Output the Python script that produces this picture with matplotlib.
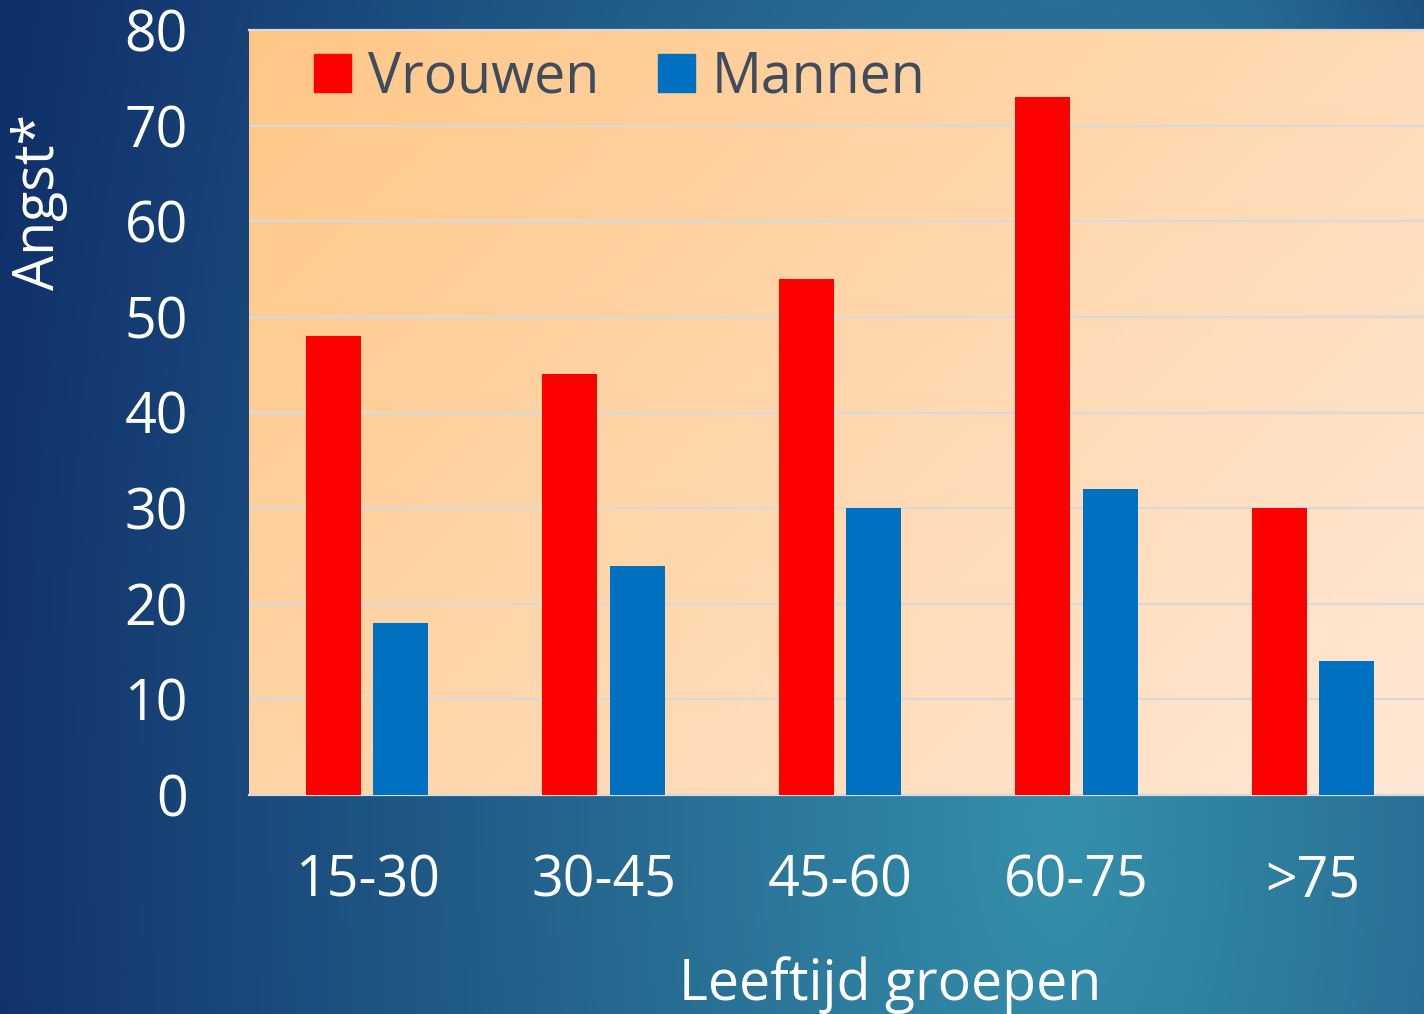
import numpy as np
import matplotlib
matplotlib.use('Agg')
import matplotlib.pyplot as plt
from matplotlib.patches import Patch
from matplotlib.colors import to_rgb

# data
groups = ['15-30', '30-45', '45-60', '60-75', '>75']
vrouwen = [48, 44, 54, 73, 30]
mannen = [18, 24, 30, 32, 14]
yticks = [0, 10, 20, 30, 40, 50, 60, 70, 80]

plt.rcParams['font.family'] = ['Open Sans', 'DejaVu Sans']

W, H = 1424, 1014
fig = plt.figure(figsize=(W / 100, H / 100), dpi=100)

# blue slide background
bg_ax = fig.add_axes([0, 0, 1, 1], zorder=-1)
yy, xx = np.mgrid[0:H, 0:W]
d = np.sqrt(((xx - 1060) / 1050.0) ** 2 + ((yy - 820) / 2200.0) ** 2)
d = d + np.clip((xx - 1250) / 900.0, 0, None) * np.clip((500 - yy) / 500.0, 0, None)
t = np.clip(d / 1.05, 0, 1)[..., None]
c_in = np.array(to_rgb('#3590ab'))
c_out = np.array(to_rgb('#10306a'))
bg = c_in + (c_out - c_in) * t
bg_ax.imshow(bg, aspect='auto', extent=[0, 1, 0, 1], origin='upper')
bg_ax.axis('off')

ax = fig.add_axes([249 / W, 1 - 795 / H, 1 - 249 / W, (795 - 30) / H])
ax.patch.set_alpha(0)

xlo, xhi = -0.5, 4.47
# peach gradient inside the plot area
gy, gx = np.mgrid[0:1:200j, 0:1:300j]
s = np.clip((gx * 1.2 + gy * 0.8) / 2.0, 0, 1)[..., None]
p0 = np.array(to_rgb('#ffc786'))
p1 = np.array(to_rgb('#ffe8d6'))
ax.imshow(p0 + (p1 - p0) * s, extent=[xlo, xhi, 0, 80], aspect='auto',
          origin='upper', zorder=0)

x = np.arange(len(groups))
bw = 0.233
off = 0.1425
ax.bar(x - off, vrouwen, bw, color='#ff0000', zorder=3)
ax.bar(x + off, mannen, bw, color='#0070c0', zorder=3)

ax.set_xlim(xlo, xhi)
ax.set_ylim(0, 80)
ax.set_yticks(yticks)
ax.set_xticks(x)
ax.set_xticklabels(groups)
ax.grid(axis='y', color='#d9d9d9', linewidth=1.6, zorder=1)
ax.set_axisbelow(True)
for side in ['left', 'right']:
    ax.spines[side].set_visible(False)
for side in ['top', 'bottom']:
    ax.spines[side].set_color('#d9d9d9')
    ax.spines[side].set_linewidth(1.6)
ax.tick_params(axis='both', length=0, labelsize=40, colors='white')
ax.tick_params(axis='y', pad=44)
ax.tick_params(axis='x', pad=42)

handles = [Patch(color='#ff0000'), Patch(color='#0070c0')]
ax.legend(handles, ['Vrouwen', 'Mannen'], loc='center left',
          bbox_to_anchor=(0.055, 0.937), ncol=2, frameon=False,
          fontsize=40, labelcolor='#3e4c5e', handlelength=0.67,
          handleheight=0.67, handletextpad=0.3, columnspacing=1.07,
          borderpad=0, borderaxespad=0)

fig.text(39 / W, 1 - 202 / H, 'Angst*', rotation=90, color='white',
         fontsize=40, ha='center', va='center')
fig.text(890 / W, 1 - 1000 / H, 'Leeftijd groepen', color='white',
         fontsize=40, ha='center', va='baseline')

fig.savefig('out.png', dpi=100)
